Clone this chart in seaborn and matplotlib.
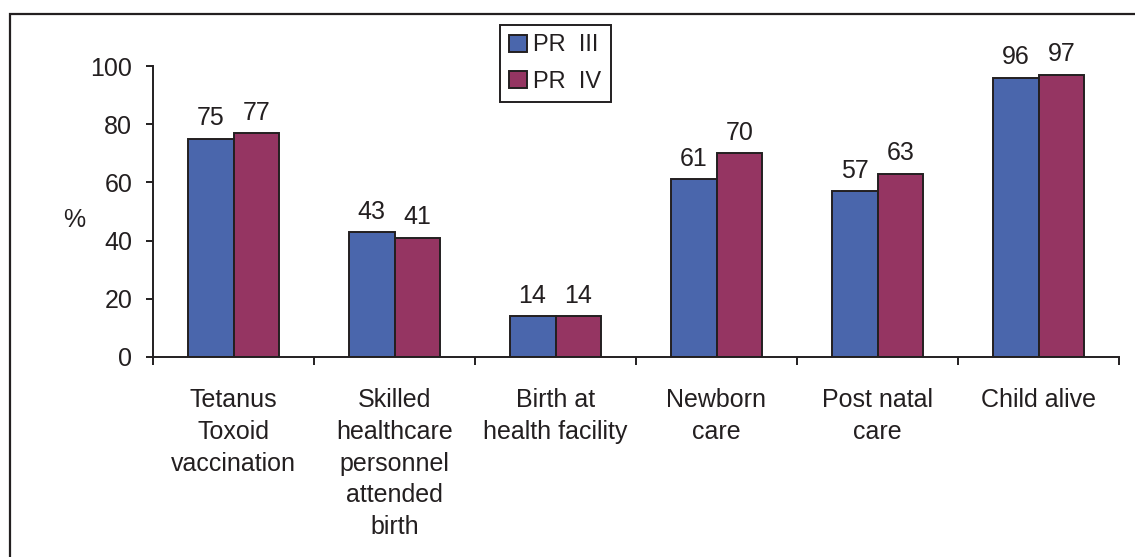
import matplotlib
matplotlib.use("Agg")
import matplotlib.pyplot as plt
import seaborn as sns
import pandas as pd
from matplotlib.patches import Rectangle

categories = ["Tetanus\nToxoid\nvaccination",
              "Skilled\nhealthcare\npersonnel\nattended\nbirth",
              "Birth at\nhealth facility",
              "Newborn\ncare",
              "Post natal\ncare",
              "Child alive"]
series_names = ["PR  III", "PR  IV"]
pr3 = [75, 43, 14, 61, 57, 96]
pr4 = [77, 41, 14, 70, 63, 97]
y_ticks = [0, 20, 40, 60, 80, 100]

df = pd.DataFrame({
    "category": categories * 2,
    "series": [series_names[0]] * len(categories) + [series_names[1]] * len(categories),
    "value": pr3 + pr4,
})

sns.set_style("white")
plt.rcParams["font.family"] = ["Liberation Sans", "DejaVu Sans"]
text_color = "#231F20"

fig = plt.figure(figsize=(11.35, 5.57), dpi=100)
ax = fig.add_axes([153 / 1135, 1 - 357 / 557, (1119 - 153) / 1135, (357 - 66) / 557])

palette = {series_names[0]: "#4A66AC", series_names[1]: "#953562"}
sns.barplot(data=df, x="category", y="value", hue="series", order=categories,
            hue_order=series_names, palette=palette, width=0.57, gap=0,
            edgecolor=text_color, linewidth=1.4, saturation=1, ax=ax)

for c in ax.containers:
    ax.bar_label(c, fmt="%d", padding=6, fontsize=18, color=text_color)

ax.set_ylim(0, 100)
ax.set_xlim(-0.5, len(categories) - 0.5)
ax.set_yticks(y_ticks)
ax.set_xlabel("")
ax.set_ylabel("")
for s in ["top", "right"]:
    ax.spines[s].set_visible(False)
for s in ["left", "bottom"]:
    ax.spines[s].set_linewidth(1.4)
    ax.spines[s].set_color(text_color)

ax.tick_params(axis="y", which="major", direction="out", length=5, width=1.4,
               color=text_color, labelsize=18, labelcolor=text_color, pad=10, left=True)
ax.tick_params(axis="x", which="major", length=0, labelsize=18, labelcolor=text_color, pad=22)
ax.set_xticks([i - 0.5 for i in range(len(categories) + 1)], minor=True)
ax.tick_params(axis="x", which="minor", direction="out", length=6, width=1.4,
               color=text_color, bottom=True)
for lab in ax.get_xticklabels():
    lab.set_linespacing(1.42)

fig.text(74 / 1135, 1 - 220 / 557, "%", fontsize=18, color=text_color,
         ha="center", va="center")

ax.legend(loc="upper left", bbox_to_anchor=(500 / 1135, 1 - 25 / 557),
          bbox_transform=fig.transFigure, fontsize=17, frameon=True, fancybox=False,
          edgecolor=text_color, handlelength=0.75, handleheight=0.75, handletextpad=0.25,
          borderpad=0.4, labelspacing=0.6, borderaxespad=0, labelcolor=text_color)
leg = ax.get_legend()
leg.get_frame().set_linewidth(1.4)
leg.get_frame().set_alpha(1)

fig.patches.append(Rectangle((10 / 1135, -0.1), 1.2, 1 - 14 / 557 + 0.1,
                             transform=fig.transFigure, fill=False,
                             edgecolor=text_color, linewidth=1.6))

fig.savefig("out.png", dpi=100)
